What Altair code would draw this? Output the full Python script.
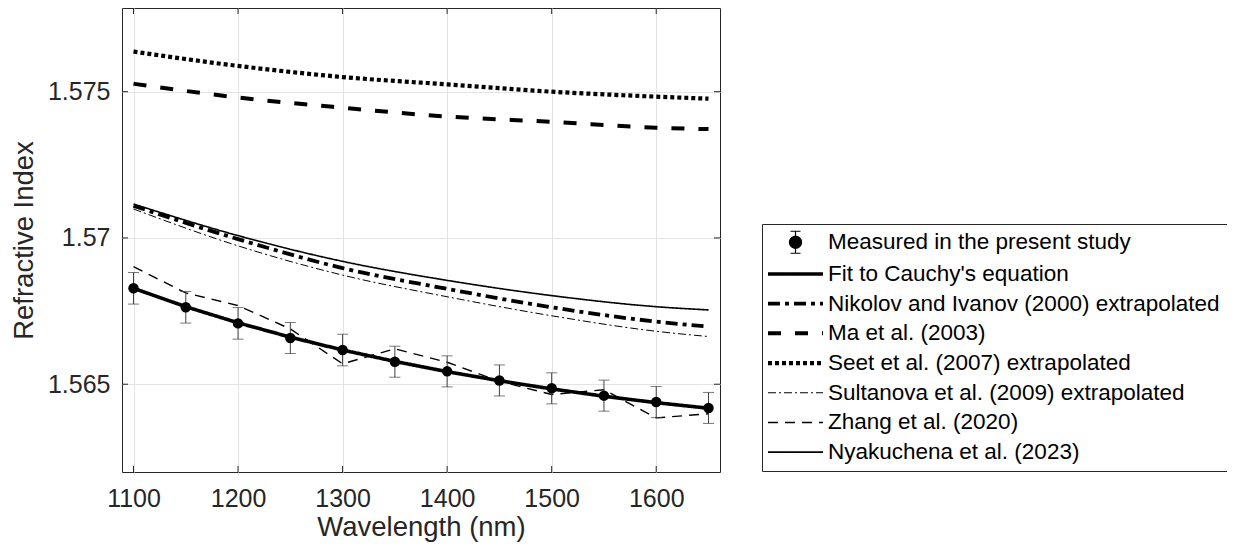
import altair as alt
import pandas as pd

FONT = "Liberation Sans"

series_names = [
    "Measured in the present study",
    "Fit to Cauchy's equation",
    "Nikolov and Ivanov (2000) extrapolated",
    "Ma et al. (2003)",
    "Seet et al. (2007) extrapolated",
    "Sultanova et al. (2009) extrapolated",
    "Zhang et al. (2020)",
    "Nyakuchena et al. (2023)",
]

# measured data (50 nm steps)
wl_meas = [1100, 1150, 1200, 1250, 1300, 1350, 1400, 1450, 1500, 1550, 1600, 1650]
n_meas = [1.56828, 1.56763, 1.56708, 1.56658, 1.56617, 1.56577,
          1.56544, 1.56513, 1.56486, 1.56461, 1.56439, 1.56419]
n_err = [0.00054, 0.00054, 0.00054, 0.00053, 0.00054, 0.00053,
         0.00053, 0.00053, 0.00053, 0.00053, 0.00053, 0.00053]
n_fit = [1.56828, 1.56765, 1.56710, 1.56661, 1.56617, 1.56578,
         1.56543, 1.56512, 1.56484, 1.56459, 1.56437, 1.56418]
n_zhang = [1.56902, 1.56812, 1.56769, 1.56689, 1.56570, 1.56621,
           1.56575, 1.56510, 1.56465, 1.56481, 1.56385, 1.56399]

# literature curves
wl_theory = [1100, 1200, 1300, 1400, 1500, 1600, 1650]
n_nikolov = [1.57110, 1.56996, 1.56897, 1.56826, 1.56763, 1.56714, 1.56697]
n_ma = [1.57527, 1.57480, 1.57445, 1.57415, 1.57397, 1.57377, 1.57372]
n_seet = [1.57637, 1.57588, 1.57550, 1.57525, 1.57500, 1.57483, 1.57476]
n_sultanova = [1.57099, 1.56973, 1.56873, 1.56799, 1.56734, 1.56681, 1.56663]
n_nyak = [1.57116, 1.57008, 1.56920, 1.56855, 1.56803, 1.56765, 1.56754]

x_ticks = [1100, 1200, 1300, 1400, 1500, 1600]
y_ticks = [1.565, 1.57, 1.575]

# styles (same order as series_names)
dash_patterns = [[1, 0], [1, 0], [12, 5, 4, 5], [13, 14], [4, 3], [8, 3, 2, 3], [10, 7], [1, 0]]
dash_of = dict(zip(series_names, dash_patterns))

# Stroke widths come from an evenly spaced point scale running 1.0 -> 4.2 px in 0.2 px steps;
# unused slots are placeholders so that each series lands on the width it needs.
width_slots = (["Sultanova et al. (2009) extrapolated",      # 1.0
                "Measured in the present study",             # 1.2
                "Zhang et al. (2020)",                       # 1.4
                "Nyakuchena et al. (2023)"]                  # 1.6
               + [f"slot{i}" for i in range(9)]              # 1.8 .. 3.4 (unused)
               + ["Fit to Cauchy's equation",                # 3.6
                  "Nikolov and Ivanov (2000) extrapolated",  # 3.8
                  "Ma et al. (2003)",                        # 4.0
                  "Seet et al. (2007) extrapolated"])        # 4.2
width_range = [1.0, 4.2]
dash_range = [dash_of.get(s, [1, 0]) for s in width_slots]

W, H = 598, 464
x_scale = alt.Scale(domain=[1089, 1661], nice=False, zero=False)
y_scale = alt.Scale(domain=[1.562, 1.57786], nice=False, zero=False)

x_axis = alt.Axis(values=x_ticks, format="d", title="Wavelength (nm)", grid=True,
                  gridColor="#e3e3e3", ticks=False, domain=False, labelFont=FONT,
                  labelFontSize=25, labelColor="#262626", labelPadding=14,
                  titleFont=FONT, titleFontSize=27.5, titleFontWeight="normal",
                  titleColor="#262626", titlePadding=2)
y_axis = alt.Axis(values=y_ticks, format=".3~f", title="Refractive Index", grid=True,
                  gridColor="#e3e3e3", ticks=False, domain=False, labelFont=FONT,
                  labelFontSize=25, labelColor="#262626", labelPadding=12,
                  titleFont=FONT, titleFontSize=27.5, titleFontWeight="normal",
                  titleColor="#262626", titlePadding=9)

STROKE_PATH = "M-5.5,0H5.5"
MEAS_PATH = ("M-1.2,0A1.2,1.2,0,1,0,1.2,0A1.2,1.2,0,1,0,-1.2,0Z"
             "M0,-2.2V2.2M-1,-2.2H1M-1,2.2H1")

legend = alt.Legend(
    title=None, orient="none", legendX=640, legendY=216, values=series_names,
    labelFont=FONT, labelFontSize=22.5, labelColor="#000000", labelLimit=600,
    symbolType={"expr": f"datum.index === 0 ? '{MEAS_PATH}' : '{STROKE_PATH}'"},
    symbolFillColor={"expr": "datum.index === 0 ? 'black' : 'transparent'"},
    symbolSize=100, symbolOffset=15.25, labelOffset=21.25,
    symbolStrokeColor="black", rowPadding=6.7, padding=7,
    strokeColor="#262626", fillColor="white",
)

dash_enc = alt.StrokeDash("series:N", scale=alt.Scale(domain=width_slots, range=dash_range),
                          legend=legend)
width_enc = alt.StrokeWidth("series:N",
                            scale=alt.Scale(type="point", domain=width_slots,
                                            range=width_range, padding=0),
                            legend=legend)

# tables
lin_rows = []
for w, f, z in zip(wl_meas, n_fit, n_zhang):
    lin_rows.append({"series": series_names[1], "wl": w, "n": f})
    lin_rows.append({"series": series_names[6], "wl": w, "n": z})
lin_df = pd.DataFrame(lin_rows)

th_rows = []
for name, vals in [(series_names[2], n_nikolov), (series_names[3], n_ma),
                   (series_names[4], n_seet), (series_names[5], n_sultanova),
                   (series_names[7], n_nyak)]:
    for w, v in zip(wl_theory, vals):
        th_rows.append({"series": name, "wl": w, "n": v})
th_df = pd.DataFrame(th_rows)

meas_df = pd.DataFrame({
    "wl": wl_meas, "n": n_meas,
    "lo": [a - b for a, b in zip(n_meas, n_err)],
    "hi": [a + b for a, b in zip(n_meas, n_err)],
})


def xq(field):
    return alt.X(field, type="quantitative", scale=x_scale, axis=x_axis)


def yq(field):
    return alt.Y(field, type="quantitative", scale=y_scale, axis=y_axis)


theory = alt.Chart(th_df).mark_line(color="black", interpolate="monotone", strokeCap="butt").encode(
    x=xq("wl"), y=yq("n"), strokeDash=dash_enc, strokeWidth=width_enc, detail="series:N")
linear = alt.Chart(lin_df).mark_line(color="black", strokeCap="butt").encode(
    x=xq("wl"), y=yq("n"), strokeDash=dash_enc, strokeWidth=width_enc, detail="series:N")

ERR_C = "#404040"
err = alt.Chart(meas_df).mark_rule(color=ERR_C, strokeWidth=1).encode(
    x=xq("wl"), y=yq("lo"), y2="hi:Q")
cap_lo = alt.Chart(meas_df).mark_tick(color=ERR_C, orient="horizontal", size=11, thickness=1).encode(
    x=xq("wl"), y=yq("lo"))
cap_hi = alt.Chart(meas_df).mark_tick(color=ERR_C, orient="horizontal", size=11, thickness=1).encode(
    x=xq("wl"), y=yq("hi"))
pts = alt.Chart(meas_df).mark_circle(color="black", size=110, opacity=1).encode(
    x=xq("wl"), y=yq("n"))

xt_df = pd.DataFrame({"t": x_ticks})
yt_df = pd.DataFrame({"t": y_ticks})
TICK = "#262626"
xt_bottom = alt.Chart(xt_df).mark_rule(color=TICK, strokeWidth=1).encode(
    x=xq("t"), y=alt.value(H), y2=alt.value(H - 6))
xt_top = alt.Chart(xt_df).mark_rule(color=TICK, strokeWidth=1).encode(
    x=xq("t"), y=alt.value(0), y2=alt.value(6))
yt_left = alt.Chart(yt_df).mark_rule(color=TICK, strokeWidth=1).encode(
    y=yq("t"), x=alt.value(0), x2=alt.value(6))
yt_right = alt.Chart(yt_df).mark_rule(color=TICK, strokeWidth=1).encode(
    y=yq("t"), x=alt.value(W), x2=alt.value(W - 6))

chart = alt.layer(
    theory, linear, err, cap_lo, cap_hi, pts, xt_bottom, xt_top, yt_left, yt_right
).properties(
    width=W, height=H, autosize="none",
    padding={"left": 114, "top": 0, "right": 507, "bottom": 74},
).configure_view(
    stroke="#262626", strokeWidth=1
)

chart.save("out.html", embed_options={"renderer": "svg", "actions": False})
